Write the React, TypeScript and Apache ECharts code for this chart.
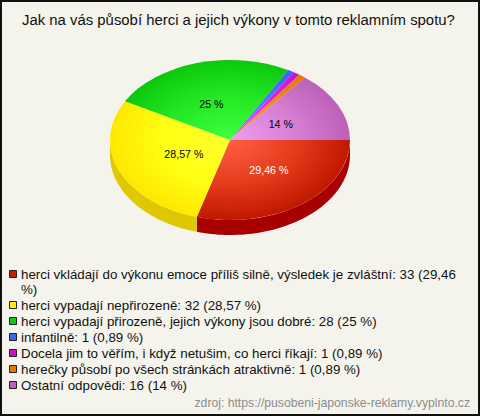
import React, { useEffect, useRef } from "react";
import * as echarts from "echarts";

const title = "Jak na vás působí herci a jejich výkony v tomto reklamním spotu?";
const source = "zdroj: https://pusobeni-japonske-reklamy.vyplnto.cz";
const values = [33, 32, 28, 1, 1, 1, 16];
const sliceLabels = ["29,46 %", "28,57 %", "25 %", "", "", "", "14 %"];
const legendLines = [
  "herci vkládají do výkonu emoce příliš silně, výsledek je zvláštní: 33 (29,46\n%)",
  "herci vypadají nepřirozeně: 32 (28,57 %)",
  "herci vypadají přirozeně, jejich výkony jsou dobré: 28 (25 %)",
  "infantilně: 1 (0,89 %)",
  "Docela jim to věřím, i když netušim, co herci říkají: 1 (0,89 %)",
  "herečky působí po všech stránkách atraktivně: 1 (0,89 %)",
  "Ostatní odpovědi: 16 (14 %)",
];
const innerColors = ["#ff5f45", "#ffff30", "#40ff40", "#6f8fff", "#ff40ff", "#ff9a20", "#f09cf0"];
const midColors = ["#e53c1c", "#ffff14", "#24e824", "#5078f8", "#e02ae0", "#f28a10", "#d680d4"];
const outerColors = ["#c01800", "#ffe800", "#0cc80c", "#3c64f0", "#c814c8", "#e87800", "#bc60b8"];
const wallColors = ["#a80000", "#e0c800", "#0a9a0a", "#2a48b0", "#a010a0", "#b86000", "#905090"];
const swatchColors = ["#c81e00", "#ffee00", "#10c810", "#3c64f0", "#c814c8", "#e87800", "#bc60b8"];
const labelColors = ["#ffffff", "#000000", "#000000", "#000000", "#000000", "#000000", "#000000"];
const labelNudgeX = [5, 6, -3, 0, 0, 0, 0];

const CX = 230, CY = 140, RX = 120, RY = 80, DEPTH = 15;
const total = values.reduce((a, b) => a + b, 0);

function renderSlice(params: any, api: any) {
  const idx = api.value(0);
  const before = values.slice(0, idx).reduce((a, b) => a + b, 0);
  const a0 = (before / total) * Math.PI * 2;
  const a1 = ((before + api.value(1)) / total) * Math.PI * 2;
  const children: any[] = [];
  const w0 = Math.max(a0, 0), w1 = Math.min(a1, Math.PI);
  if (w1 > w0) {
    const pts: number[][] = [];
    const n = 60;
    for (let i = 0; i <= n; i++) {
      const a = w0 + ((w1 - w0) * i) / n;
      pts.push([CX + RX * Math.cos(a), CY + RY * Math.sin(a)]);
    }
    for (let i = n; i >= 0; i--) {
      const a = w0 + ((w1 - w0) * i) / n;
      pts.push([CX + RX * Math.cos(a), CY + DEPTH + RY * Math.sin(a)]);
    }
    children.push({ type: "polygon", shape: { points: pts }, style: { fill: wallColors[idx] } });
  }
  children.push({
    type: "group",
    x: CX,
    y: CY,
    scaleY: RY / RX,
    children: [
      {
        type: "sector",
        shape: { cx: 0, cy: 0, r0: 0, r: RX, startAngle: a0, endAngle: a1, clockwise: true },
        style: {
          fill: new echarts.graphic.RadialGradient(0, 0, RX, [
            { offset: 0, color: innerColors[idx] },
            { offset: 0.55, color: midColors[idx] },
            { offset: 1, color: outerColors[idx] },
          ], true),
        },
      },
    ],
  });
  const label = sliceLabels[idx];
  if (label) {
    const mid = (a0 + a1) / 2;
    children.push({
      type: "text",
      x: CX + RX * 0.47 * Math.cos(mid) + labelNudgeX[idx],
      y: CY + RY * 0.47 * Math.sin(mid),
      style: {
        text: label,
        fill: labelColors[idx],
        font: "10.67px 'Liberation Sans', Arial, sans-serif",
        align: "center",
        verticalAlign: "middle",
      },
    });
  }
  return { type: "group", children };
}

export default function App() {
  const ref = useRef<HTMLDivElement>(null);
  useEffect(() => {
    document.body.style.margin = "0";
    const chart = echarts.init(ref.current!, null, { renderer: "svg" });
    const legendFont = "13.33px 'Liberation Sans', Arial, sans-serif";
    let y = 274;
    const legendEls: any[] = [];
    legendLines.forEach((line, i) => {
      legendEls.push({
        type: "rect",
        shape: { x: 9.5, y: Math.floor(y) - 3.5, width: 7, height: 7 },
        style: { fill: swatchColors[i], stroke: "#222222", lineWidth: 1 },
      });
      legendEls.push({
        type: "text",
        x: 21,
        y,
        style: {
          text: line,
          fill: "#111111",
          font: legendFont,
          lineHeight: 15,
          verticalAlign: "top",
          y: -7,
        },
      });
      y += line.includes("\n") ? 31 : 16;
    });
    chart.setOption({
      animation: false,
      backgroundColor: "#f5f4ec",
      graphic: [
        {
          type: "rect",
          silent: true,
          z: 10,
          shape: { x: 1, y: 1, width: 478, height: 414 },
          style: { fill: "transparent", stroke: "#111111", lineWidth: 2 },
        },
        {
          type: "text",
          x: 22,
          y: 12,
          style: { text: title, fill: "#111111", font: "14.9px 'Liberation Sans', Arial, sans-serif" },
        },
        ...legendEls,
        {
          type: "text",
          x: 470,
          y: 397,
          style: {
            text: source,
            fill: "#8c8c8c",
            align: "right",
            font: "12.2px 'Liberation Sans', Arial, sans-serif",
          },
        },
      ],
      series: [
        {
          type: "custom",
          coordinateSystem: "none",
          renderItem: renderSlice,
          data: values.map((v, i) => [i, v]),
        },
      ],
    });
    return () => chart.dispose();
  }, []);
  return <div ref={ref} style={{ width: 480, height: 416 }} />;
}
